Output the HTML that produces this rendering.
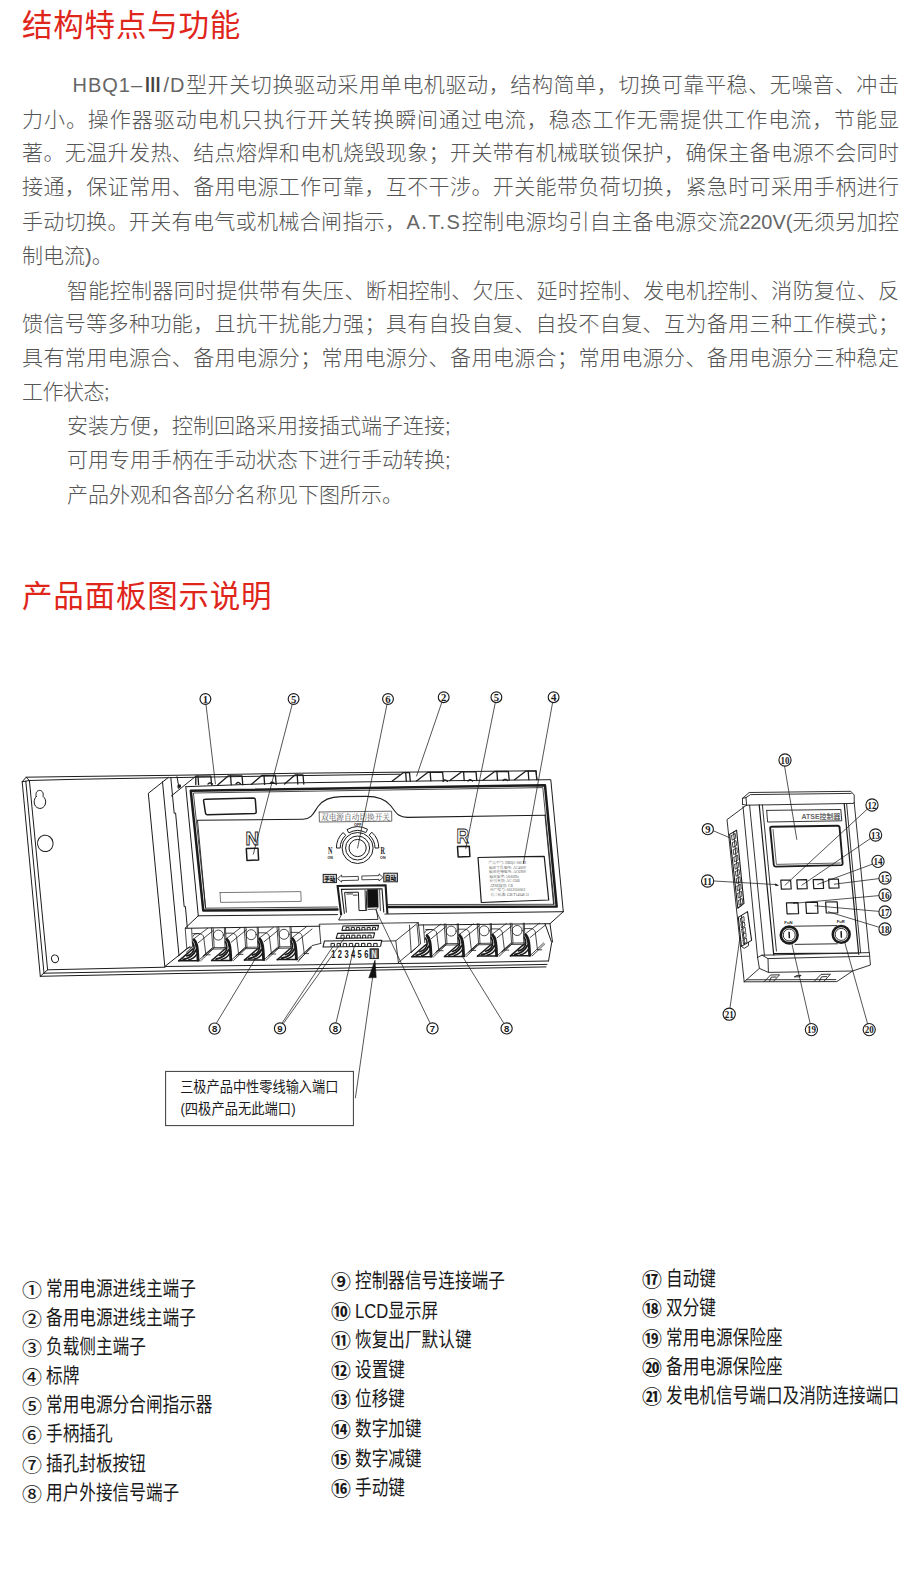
<!DOCTYPE html>
<html lang="zh-CN">
<head>
<meta charset="utf-8">
<title>结构特点与功能</title>
<style>
html,body{margin:0;padding:0;background:#fff;}
body{width:918px;height:1595px;position:relative;overflow:hidden;font-family:"Liberation Sans","Noto Sans CJK SC",sans-serif;}
.h{position:absolute;left:22px;color:#e0251b;font-size:30.5px;line-height:36px;letter-spacing:.8px;white-space:nowrap;font-weight:400;}
.l{position:absolute;left:22px;width:877px;color:#555;font-size:21px;line-height:30px;font-weight:300;white-space:nowrap;font-family:"Liberation Sans","Noto Sans CJK SC",sans-serif;letter-spacing:0;}
.l.j{text-align:justify;text-align-last:justify;}
.l.i{left:67px;width:832px;}
.l.n{letter-spacing:0;}
.l b{font-weight:300;font-size:20px;color:#666;}
.l b i{font-style:normal;font-weight:700;color:#444;display:inline-block;width:13.5px;margin:0 3.4px 0 3.4px;text-indent:-3.2px;letter-spacing:0;transform:scaleX(.8);transform-origin:50% 50%;}
</style>
</head>
<body>
<div class="h" style="top:7px">结构特点与功能</div>
<div class="l j i" style="top:70px"><b style="letter-spacing:1px;margin-left:5.5px">HBQ1–<i>Ⅲ</i>/D</b>型开关切换驱动采用单电机驱动，结构简单，切换可靠平稳、无噪音、冲击</div>
<div class="l j" style="top:104.5px">力小。操作器驱动电机只执行开关转换瞬间通过电流，稳态工作无需提供工作电流，节能显</div>
<div class="l j" style="top:138.2px">著。无温升发热、结点熔焊和电机烧毁现象；开关带有机械联锁保护，确保主备电源不会同时</div>
<div class="l j" style="top:172px">接通，保证常用、备用电源工作可靠，互不干涉。开关能带负荷切换，紧急时可采用手柄进行</div>
<div class="l j" style="top:206.5px">手动切换。开关有电气或机械合闸指示，<b style="letter-spacing:1.4px">A.T.S</b>控制电源均引自主备电源交流<b style="letter-spacing:-.1px">220V(</b>无须另加控</div>
<div class="l n" style="top:240.5px">制电流<b>)</b>。</div>
<div class="l j i" style="top:275.5px">智能控制器同时提供带有失压、断相控制、欠压、延时控制、发电机控制、消防复位、反</div>
<div class="l j" style="top:309px">馈信号等多种功能，且抗干扰能力强；具有自投自复、自投不自复、互为备用三种工作模式；</div>
<div class="l j" style="top:343px">具有常用电源合、备用电源分；常用电源分、备用电源合；常用电源分、备用电源分三种稳定</div>
<div class="l n" style="top:377px;letter-spacing:-.5px">工作状态<b>;</b></div>
<div class="l i n" style="top:411px">安装方便，控制回路采用接插式端子连接<b>;</b></div>
<div class="l i n" style="top:444.5px">可用专用手柄在手动状态下进行手动转换<b>;</b></div>
<div class="l i n" style="top:479.5px">产品外观和各部分名称见下图所示。</div>
<div class="h" style="top:578px">产品面板图示说明</div>
<svg style="position:absolute;left:0;top:680px" width="918" height="470" viewBox="0 680 918 470">
<g fill="none" stroke="#1c1c1c" stroke-width="1.0" stroke-linejoin="round" stroke-linecap="round">
<path d="M22.2,781.8 L26.1,777.2 L75.0,776.5 L173.0,775.3 L300.0,773.2 L536.0,770.8"/>
<path d="M29.4,780.5 L75.0,779.3 L168.0,777.7 L300.0,775.6 L400.0,774.2"/>
<path d="M22.2,781.8 L40.3,976.3"/>
<path d="M25.8,781.1 L44.0,973.2"/>
<path d="M29.4,780.5 L47.6,969.8"/>
<path d="M22.2,781.8 L29.4,780.5"/>
<path d="M26.1,777.2 L29.4,780.5"/>
<path d="M40.3,976.3 L47.6,969.8"/>
<path d="M40.3,976.3 L173.0,973.6 L293.0,971.6 L438.0,968.9 L546.0,966.9"/>
<path d="M44.0,973.2 L173.0,970.9 L293.0,969.0 L438.0,966.4 L547.0,964.4"/>
<path d="M47.6,969.8 L165.0,967.2"/>
<path d="M36.2,796.6 C35.2,793.2 36.8,790.4 39.6,790.4 C42.4,790.4 43.8,793.2 43.0,796.4 C45.4,798.2 46.2,801.2 45.4,804.0 C44.4,807.2 41.8,808.8 39.2,808.4 C36.0,807.8 34.0,805.0 34.2,801.8 C34.3,799.6 35.0,797.8 36.2,796.6 Z"/>
<ellipse cx="45.3" cy="843.4" rx="7.8" ry="8.2" transform="rotate(-10 45.3 843.4)"/>
<ellipse cx="55" cy="958.8" rx="3.5" ry="3.9" transform="rotate(-15 55 958.8)"/>
<path d="M168.3,777.5 L148.3,793.3 L164.8,966.5 L190.0,946.5"/>
<path d="M162.5,781.8 L179.0,955.5"/>
<path d="M170.8,777.5 L174.2,813.3 L175.6,813.0 L184.2,906.8 L185.4,906.5 L187.3,927.5"/>
<path d="M171.4,795.9 L195.8,776.2"/>
<path d="M177.0,776.7 L178.8,786.8"/>
<path d="M178.2,785.4 l2.0,-0.6 l0.4,2.2 l-2.0,1.2 Z" fill="#1c1c1c"/>
<path d="M185.8,786.7 L198.3,915.8"/>
<path d="M164.8,966.5 L293.0,965.0 L438.0,963.0 L548.0,961.0"/>
<path d="M185.8,786.7 L285.0,783.0 L438.0,780.8 L550.8,779.7 L563.3,911.7"/>
<path d="M198.3,915.8 L337.5,914.6"/>
<path d="M387.0,914.0 L563.3,911.7"/>
<path d="M198.3,915.8 L185.0,928.3 L293.0,926.6 L320.0,926.2"/>
<path d="M418.0,925.0 L550.0,923.7 L563.3,911.7"/>
<path d="M545.0,923.7 L551.7,942.5 L548.5,961.2"/>
<path d="M550.0,923.7 L552.5,942.0"/>
<path d="M536.0,770.8 L537.0,779.8"/>
</g>
<g fill="none" stroke="#1c1c1c" stroke-linejoin="round" stroke-linecap="round">
<path d="M337.5,909.6 L203.3,910.6 L190.8,790.8 L545.0,785.3 L556.7,906.6 L387.0,907.0" stroke-width="2.5"/>
<path d="M337.5,907.0 L205.6,908.2 L193.4,793.0 L542.8,787.6 L554.2,904.3 L387.0,904.6" stroke-width="0.8"/>
<path stroke-width="1.1" d="M197.5,820.3 L303,819.3 C312,819.2 314,812 318,806.5 C323,799.5 331,796.7 341,796.6 L366,796.4 C378,796.4 386,799.5 391,806 C396,812.5 398,817.6 408,817.4 L545,815.2"/>
<path d="M545.0,815.2 L553.6,904.3" stroke-width="0.9"/>
<path d="M197.5,820.3 L205.6,908.2" stroke-width="0.9"/>
<path stroke-width="1.5" d="M205.3,799.2 L253.6,798.0 Q255.2,798 255.3,799.6 L256.2,811.8 Q256.3,813.4 254.6,813.5 L207.4,814.7 Q205.8,814.7 205.5,813.1 L203.6,800.9 Q203.4,799.2 205.3,799.2 Z"/>
<path d="M220.0,892.6 L300.8,891.6 L301.2,901.4 L220.6,902.4 L220.0,892.6" stroke-width="0.8" stroke="#555"/>
<path d="M246.3,848.6 L258.0,848.2 L258.6,860.0 L247.0,860.4 L246.3,848.6" stroke-width="1.5"/>
<path d="M457.5,846.6 L469.3,846.2 L469.9,856.6 L458.2,857.0 L457.5,846.6" stroke-width="1.5"/>
<path d="M478.0,857.5 L544.2,856.3 L548.7,900.0 L481.3,902.5 L478.0,857.5" stroke-width="1.2"/>
<path d="M319.2,812.0 L391.6,811.2 L391.8,821.2 L319.4,822.0 L319.2,812.0" stroke-width="0.8" stroke="#444"/>
</g>
<g fill="#fff" stroke="#1c1c1c" stroke-width="0.9" font-family="Liberation Sans, sans-serif" font-weight="bold">
<text x="252.2" y="845.2" font-size="19" text-anchor="middle" textLength="13.5" lengthAdjust="spacingAndGlyphs">N</text>
<text x="462.8" y="842.6" font-size="20" text-anchor="middle" textLength="12.5" lengthAdjust="spacingAndGlyphs">R</text>
</g>
<text x="355.5" y="820.0" font-family="Liberation Serif, Noto Serif CJK SC, serif" font-size="8.2" fill="#555" text-anchor="middle" textLength="69" lengthAdjust="spacingAndGlyphs">双电源自动切换开关</text>
<g fill="none" stroke="#1c1c1c" stroke-width="1.0">
<circle cx="357.6" cy="848.0" r="8.6"/>
<circle cx="357.6" cy="848.0" r="12.0"/>
<circle cx="357.6" cy="848.0" r="15.5"/>
<path d="M340.2,848.0 A17.4,17.4 0 0 1 345.7,835.3 L343.1,832.5 A21.2,21.2 0 0 0 336.4,848.0 Z"/>
<path d="M348.9,832.9 A17.4,17.4 0 0 1 365.8,832.6 L367.6,829.3 A21.2,21.2 0 0 0 347.0,829.6 Z"/>
<path d="M369.2,835.1 A17.4,17.4 0 0 1 375.0,848.0 L378.8,848.0 A21.2,21.2 0 0 0 371.8,832.2 Z"/>
</g>
<g font-family="Liberation Serif, serif" font-weight="bold" fill="#1c1c1c" text-anchor="middle">
<text x="357.8" y="825.6" font-size="3.8" font-family="Liberation Sans, sans-serif">OFF</text>
<text x="330.2" y="853.8" font-size="9.6" textLength="4.4" lengthAdjust="spacingAndGlyphs">N</text>
<text x="330.2" y="859.4" font-size="3.6" font-family="Liberation Sans, sans-serif">ON</text>
<text x="382.8" y="853.8" font-size="9.6" textLength="4.4" lengthAdjust="spacingAndGlyphs">R</text>
<text x="382.8" y="859.4" font-size="3.6" font-family="Liberation Sans, sans-serif">ON</text>
</g>
<g stroke="#1c1c1c" stroke-width="1" fill="#d8d8d8">
<rect x="323.2" y="874.4" width="13.2" height="8.2"/>
<rect x="383.8" y="873.2" width="13.6" height="8.6"/>
</g>
<g font-family="Liberation Sans, Noto Sans CJK SC, sans-serif" font-weight="900" fill="#111" text-anchor="middle" font-size="6">
<text x="329.8" y="880.8" textLength="11.2" lengthAdjust="spacingAndGlyphs">手动</text>
<text x="390.6" y="879.8" textLength="11.6" lengthAdjust="spacingAndGlyphs">自动</text>
</g>
<g fill="none" stroke="#1c1c1c" stroke-width="0.8" stroke-linejoin="miter">
<path d="M337.6,878.6 L341.6,875.0 L341.6,876.8 L358.3,876.4 L358.4,880.2 L341.6,880.6 L341.6,882.2 Z"/>
<path d="M383.0,877.4 L379.0,873.8 L379.0,875.6 L361.8,876.0 L361.9,879.8 L379.0,879.4 L379.0,881.0 Z"/>
</g>
<g stroke="#1c1c1c" stroke-linejoin="miter">
<path fill="#fff" stroke="none" d="M341.2,915.0 L337.6,886.0 L385.6,885.2 L387.4,913.6 Z"/>
<path fill="none" stroke-width="2.1" d="M341.2,915.2 L337.6,886.0 L385.6,885.2 L387.4,913.8"/>
<path fill="none" stroke-width="1.1" d="M344.4,913.8 L341.4,889.4 L382.0,888.8 L383.8,912.4"/>
<path fill="none" stroke-width="1.0" d="M346.4,912.6 L344.6,892.4 L358.4,892.2 L359.0,910.6 L366.8,910.4 L366.2,890.6"/>
<path fill="none" stroke-width="0.9" d="M346.4,894.0 L353,893.9 M353,895.2 L357.6,895.1"/>
<path fill="#111" stroke-width="0.6" d="M367.4,889.6 L377.8,889.4 L378.2,907.0 L367.8,907.4 Z"/>
<path fill="none" stroke-width="0.8" d="M365.0,889.8 L365.6,909.8 M379.6,889.4 L380.4,911.0 M368,909.4 L376.4,909.2 L378.2,907.0"/>
<path fill="none" stroke-width="0.9" d="M341.2,915.2 L338.6,920.0 L378.0,919.4 L376.4,909.4 M387.4,913.8 L384.4,914.2"/>
</g>
<g font-family="Liberation Serif, Noto Serif CJK SC, serif" font-size="3.7" fill="#555">
<text x="488.6" y="864.0">产品型号: HBQ1-100 Ⅲ</text>
<text x="488.9" y="868.5">额定工作电压: AC400V</text>
<text x="489.1" y="873.0">额定绝缘电压: AC690V</text>
<text x="489.4" y="877.5">额定频率: 50/60Hz</text>
<text x="489.6" y="882.0">使用类别: AC-33iB</text>
<text x="489.9" y="886.5">ATSE级别: CB</text>
<text x="490.1" y="891.0">出厂编号: 0012050002</text>
<text x="490.4" y="895.5">符合标准: GB/T14048.11</text>
</g>
<g fill="none" stroke="#1c1c1c" stroke-width="1.3" stroke-linejoin="round" stroke-linecap="round">
<path d="M195.8,784.6 L195.8,776.2 L210.8,776.2 L211.6,784.6"/><path d="M198.0,776.2 L198.6,784.6"/>
<path d="M217.9,784.8 L228.4,775.8 L242.0,775.8 L242.8,784.8"/><path d="M230.6,775.8 L231.2,784.8"/>
<path d="M251.3,784.4 L261.8,775.4 L275.4,775.4 L276.2,784.4"/><path d="M264.0,775.4 L264.6,784.4"/>
<path d="M284.5,784.0 L295.0,775.0 L303.0,775.0 L303.8,784.0"/><path d="M297.2,775.0 L297.8,784.0"/>
<path d="M392.0,781.2 L403.5,772.6 L409.5,772.6 L410.3,781.2"/><path d="M405.7,772.6 L406.3,781.2"/>
<path d="M416.5,780.9 L428.0,772.3 L442.6,772.3 L443.4,780.9"/><path d="M430.2,772.3 L430.8,780.9"/>
<path d="M449.9,780.5 L461.4,771.9 L476.0,771.9 L476.8,780.5"/><path d="M463.6,771.9 L464.2,780.5"/>
<path d="M483.2,780.1 L494.7,771.5 L508.4,771.5 L509.2,780.1"/><path d="M496.9,771.5 L497.5,780.1"/>
<path d="M514.5,779.7 L526.0,771.1 L536.0,771.1 L536.8,779.7"/><path d="M528.2,771.1 L528.8,779.7"/>
<path d="M208.0,784.1 l1.5,-1.3 l1.6,0.2 l1.4,1.1"/>
<path d="M236.0,783.8 l1.5,-1.3 l1.6,0.2 l1.4,1.1"/>
<path d="M270.0,783.4 l1.5,-1.3 l1.6,0.2 l1.4,1.1"/>
<path d="M443.0,781.3 l1.5,-1.3 l1.6,0.2 l1.4,1.1"/>
<path d="M468.0,781.0 l1.5,-1.3 l1.6,0.2 l1.4,1.1"/>
<path d="M503.0,780.6 l1.5,-1.3 l1.6,0.2 l1.4,1.1"/>
</g>
<defs>
<g id="tmA" fill="none" stroke="#1c1c1c" stroke-width="0.8" stroke-linejoin="round" stroke-linecap="round"><circle cx="0" cy="0" r="5.0"/>
<path d="M-7,-7.3 L-5.6,13.0 M-5.3,-7.3 L-4.2,12.6 M6.0,-7.3 L6.6,12.4 M7.1,-7.3 L7.9,12.0"/>
<path d="M-4.9,12.6 L7.4,12.4 M-5.6,14.0 L5.6,13.8"/>
<path d="M-4.9,13.0 L-15.4,21.6 M-7.0,14.0 L-15.0,20.6"/></g>
<g id="tm">
<g fill="none" stroke="#1c1c1c" stroke-width="0.8" stroke-linejoin="round" stroke-linecap="round">
<path d="M7.1,-1.9 L13.9,-1.9 C16,-1.6 17.6,-0.4 18.1,1.6 L20.2,18.8"/>
<path d="M22.2,-7.3 L8.1,3.4 M28,-5.3 L12.6,7.3"/>
<path d="M26.4,12.5 L13.9,24.2 M27.6,13.4 L15.0,25.4"/>
<path d="M20.2,19.3 L24.6,19.3"/>
</g>
<path fill="#fff" stroke="none" d="M-7,25.6 L13.6,25.6 L12.8,9.4 C12.4,6.0 10.2,3.8 7.6,3.0 C8.8,6.4 8.6,10 7.4,13.2 Z"/>
<g fill="none" stroke="#1a1a1a" stroke-linecap="round" stroke-linejoin="round">
<path stroke-width="1.5" d="M-6.6,25.3 L13.4,25.3"/>
<path stroke-width="1.5" d="M-6.8,25.4 L7.2,13.4"/>
<path stroke-width="2.8" d="M8.4,4.2 C10.8,6.4 12.0,10.4 12.4,24.6"/>
<path stroke-width="1.6" d="M7.0,6.8 C9.0,10.2 9.2,13.8 6.6,17.2 C5.2,19.0 3.2,20.0 1.2,20.4"/>
<path stroke-width="1.9" d="M-2.4,24.0 C3.4,22.8 8.0,19.6 10.2,14.8"/>
<path stroke-width="1.5" d="M3.0,24.4 C6.4,23.6 9.4,21.6 11.2,18.6"/>
</g>
</g></defs>
<use href="#tm" x="185.6" y="935.5"/>
<use href="#tmA" x="218.4" y="935.1"/>
<use href="#tm" x="218.4" y="935.1"/>
<use href="#tmA" x="251.2" y="934.7"/>
<use href="#tm" x="251.2" y="934.7"/>
<use href="#tmA" x="284.0" y="934.3"/>
<use href="#tm" x="284.0" y="934.3"/>
<path fill="none" stroke="#1c1c1c" stroke-width="0.8" d="M185.2,928.3 L186.8,948.4 M191.6,928.2 L192.6,946.8 M186.8,948.4 L192.6,946.8 M186.8,948.4 L177.6,956.6 M192.6,946.8 L186,952.6 M193.0,936.6 C193.6,934.2 196,933.4 199.4,933.5"/>
<use href="#tm" x="418.6" y="931.4"/>
<use href="#tmA" x="451.2" y="931.1"/>
<use href="#tm" x="451.2" y="931.1"/>
<use href="#tmA" x="484.2" y="930.8"/>
<use href="#tm" x="484.2" y="930.8"/>
<use href="#tmA" x="517.2" y="930.5"/>
<use href="#tm" x="517.2" y="930.5"/>
<path fill="none" stroke="#1c1c1c" stroke-width="0.8" d="M409.4,924.8 L411.2,952.8 M417.0,924.8 L419.0,945.0 M411.2,952.8 L419.0,945.0 M424.6,933.0 C425.2,930.4 428,929.4 432.4,929.5 M423.4,924.6 L424.8,943"/>
<g fill="none" stroke="#1c1c1c" stroke-width="0.85" stroke-linejoin="round" stroke-linecap="round">
<path d="M320.8,943.4 L319.2,924.2 L418.3,922.6 L395.8,940.8 L398.4,962.6"/>
<path d="M320.8,943.4 L312.0,945.6 L298.0,961.6"/>
<path d="M418.3,922.6 L420.6,944.0 L398.4,962.6"/>
<path d="M395.8,940.8 L382.0,941.2"/>
<path d="M343.0,926.0 L378.6,925.4 L377.6,929.8 L342.0,930.4 L343.0,926.0" stroke-width="1.1"/>
<path d="M337.6,933.4 L374.6,932.8 L373.4,937.8 L336.2,938.4 L337.6,933.4" stroke-width="1.1"/>
<path d="M324.4,941.0 L381.8,940.2 L380.6,946.2 L323.0,947.0 L324.4,941.0" stroke-width="1.1"/>
<path d="M346.0,930.0 l0,-2.6 l3.0,0 l0,2.6 M351.3,930.0 l0,-2.6 l3.0,0 l0,2.6 M356.6,930.0 l0,-2.6 l3.0,0 l0,2.6 M361.9,930.0 l0,-2.6 l3.0,0 l0,2.6 M367.2,930.0 l0,-2.6 l3.0,0 l0,2.6 M372.5,930.0 l0,-2.6 l3.0,0 l0,2.6 " stroke-width="1.0"/>
<path d="M341.0,938.0 l0,-2.8 l3.1,0 l0,2.8 M346.4,938.0 l0,-2.8 l3.1,0 l0,2.8 M351.8,938.0 l0,-2.8 l3.1,0 l0,2.8 M357.2,938.0 l0,-2.8 l3.1,0 l0,2.8 M362.6,938.0 l0,-2.8 l3.1,0 l0,2.8 M368.0,938.0 l0,-2.8 l3.1,0 l0,2.8 " stroke-width="1.0"/>
<path d="M331.0,946.4 l0,-3.0 l3.4,0 l0,3.0 M337.1,946.4 l0,-3.0 l3.4,0 l0,3.0 M343.2,946.4 l0,-3.0 l3.4,0 l0,3.0 M349.3,946.4 l0,-3.0 l3.4,0 l0,3.0 M355.4,946.4 l0,-3.0 l3.4,0 l0,3.0 M361.5,946.4 l0,-3.0 l3.4,0 l0,3.0 M367.6,946.4 l0,-3.0 l3.4,0 l0,3.0 M373.7,946.4 l0,-3.0 l3.4,0 l0,3.0 " stroke-width="1.0"/>
</g>
<rect x="370.0" y="948.8" width="8.4" height="9.8" fill="#555" stroke="#1c1c1c" stroke-width="0.9"/>
<text transform="translate(351.0,957.6) scale(.7,1)" font-family="Liberation Sans, sans-serif" font-weight="bold" font-size="10.8" letter-spacing="3.4" fill="#1a1a1a" text-anchor="middle">123456</text>
<text x="374.2" y="957.6" font-family="Liberation Sans, sans-serif" font-weight="bold" font-size="10.4" fill="#eee" text-anchor="middle" textLength="5.2" lengthAdjust="spacingAndGlyphs">N</text>
<path d="M375.0,960.2 L376.2,977.6 L368.8,977.8 Z" fill="#111" stroke="#111" stroke-width="0.6"/>
<g fill="none" stroke="#1c1c1c" stroke-width="0.75" stroke-linecap="round">
<path d="M206.0,704.6 L215.4,783.8"/>
<path d="M292.2,704.4 L253.4,854.0"/>
<path d="M387.0,704.4 L357.6,848.0"/>
<path d="M441.8,702.4 L416.6,776.0"/>
<path d="M495.3,702.6 L465.8,848.4"/>
<path d="M552.6,702.6 L523.4,863.4"/>
<path d="M255.2,959.0 L216.6,1022.8"/>
<path d="M333.4,945.8 L282.2,1022.8"/>
<path d="M344.4,938.2 L283.4,1023.4"/>
<path d="M354.4,945.6 L336.2,1022.2"/>
<path d="M375.8,910.0 L429.8,1022.6"/>
<path d="M461.6,955.0 L503.4,1022.6"/>
<path d="M372.6,977.6 L355.4,1097.8"/>
</g>
<rect x="165.6" y="1071.4" width="187.8" height="54.2" fill="#fff" stroke="#3a3a3a" stroke-width="1"/>
<g font-family="Liberation Sans, Noto Sans CJK SC, sans-serif" font-size="14.6" fill="#1a1a1a" font-weight="400">
<text x="180.2" y="1092.2" textLength="158.2" lengthAdjust="spacingAndGlyphs">三极产品中性零线输入端口</text>
<text x="180.4" y="1114.4" textLength="115.2" lengthAdjust="spacingAndGlyphs">(四极产品无此端口)</text>
</g>
<circle cx="205.4" cy="699.0" r="5.4" fill="#fff" stroke="#1c1c1c" stroke-width="1.15"/><text x="205.4" y="702.7" font-family="Liberation Serif, serif" font-weight="bold" font-size="10.8" fill="#1c1c1c" text-anchor="middle">1</text>
<circle cx="293.6" cy="699.0" r="5.4" fill="#fff" stroke="#1c1c1c" stroke-width="1.15"/><text x="293.6" y="702.7" font-family="Liberation Serif, serif" font-weight="bold" font-size="10.8" fill="#1c1c1c" text-anchor="middle">5</text>
<circle cx="388.0" cy="699.0" r="5.4" fill="#fff" stroke="#1c1c1c" stroke-width="1.15"/><text x="388.0" y="702.7" font-family="Liberation Serif, serif" font-weight="bold" font-size="10.8" fill="#1c1c1c" text-anchor="middle">6</text>
<circle cx="443.7" cy="697.2" r="5.4" fill="#fff" stroke="#1c1c1c" stroke-width="1.15"/><text x="443.7" y="700.9" font-family="Liberation Serif, serif" font-weight="bold" font-size="10.8" fill="#1c1c1c" text-anchor="middle">2</text>
<circle cx="496.4" cy="697.2" r="5.4" fill="#fff" stroke="#1c1c1c" stroke-width="1.15"/><text x="496.4" y="700.9" font-family="Liberation Serif, serif" font-weight="bold" font-size="10.8" fill="#1c1c1c" text-anchor="middle">5</text>
<circle cx="553.6" cy="697.2" r="5.4" fill="#fff" stroke="#1c1c1c" stroke-width="1.15"/><text x="553.6" y="700.9" font-family="Liberation Serif, serif" font-weight="bold" font-size="10.8" fill="#1c1c1c" text-anchor="middle">4</text>
<circle cx="214.6" cy="1028.6" r="5.6" fill="#fff" stroke="#1c1c1c" stroke-width="1.15"/><text x="214.6" y="1031.9" font-family="Liberation Sans, sans-serif" font-weight="bold" font-size="9.6" fill="#1c1c1c" text-anchor="middle">8</text>
<circle cx="280.0" cy="1028.4" r="5.6" fill="#fff" stroke="#1c1c1c" stroke-width="1.15"/><text x="280.0" y="1031.7" font-family="Liberation Sans, sans-serif" font-weight="bold" font-size="9.6" fill="#1c1c1c" text-anchor="middle">9</text>
<circle cx="335.3" cy="1028.4" r="5.6" fill="#fff" stroke="#1c1c1c" stroke-width="1.15"/><text x="335.3" y="1031.7" font-family="Liberation Sans, sans-serif" font-weight="bold" font-size="9.6" fill="#1c1c1c" text-anchor="middle">8</text>
<circle cx="432.5" cy="1028.4" r="5.6" fill="#fff" stroke="#1c1c1c" stroke-width="1.15"/><text x="432.5" y="1031.7" font-family="Liberation Sans, sans-serif" font-weight="bold" font-size="9.6" fill="#1c1c1c" text-anchor="middle">7</text>
<circle cx="506.6" cy="1028.4" r="5.6" fill="#fff" stroke="#1c1c1c" stroke-width="1.15"/><text x="506.6" y="1031.7" font-family="Liberation Sans, sans-serif" font-weight="bold" font-size="9.6" fill="#1c1c1c" text-anchor="middle">8</text>
<g fill="none" stroke="#1c1c1c" stroke-width="0.9" stroke-linejoin="round" stroke-linecap="round">
<path d="M742.5,804.4 L742.5,798.3 L749.2,792.5 L850.8,791.3 L854.2,795.0 L854.2,802.6"/>
<path d="M746.0,797.6 L750.4,794.6 L851.2,793.4"/>
<path d="M746.6,805.2 L746.0,797.6"/>
<path d="M742.5,804.4 L746.6,805.2 L853.6,803.4 L854.2,802.6"/>
<path d="M742.5,798.3 L746.0,797.6"/>
<path d="M759.2,804.8 L773.6,953.6 L858.6,953.0 L844.2,803.6" stroke-width="1.2"/>
<path d="M762.4,805.0 L776.4,951.0"/>
<path d="M846.6,803.6 L860.6,952.8"/>
<path d="M854.2,802.6 L869.2,952.6"/>
<path d="M746.7,805.0 L727.0,819.6 L744.2,981.8"/>
<path d="M743.0,806.4 L757.6,957.4"/>
<path d="M749.6,805.2 L764.4,955.2"/>
<path d="M757.6,957.4 L762.0,955.2 L869.4,952.6 L870.4,965.0 L852.6,971.0 L768.4,972.4 L759.4,968.4 L757.6,957.4"/>
<path d="M762.0,955.2 L768.0,958.6 L768.4,972.4"/>
<path d="M768.0,958.6 L869.6,956.2"/>
<path d="M773.6,953.6 L773.8,955.2"/>
<path d="M858.6,953.0 L858.8,954.6"/>
<path d="M744.2,981.8 L836.8,981.6 L852.6,971.0"/>
<path d="M744.2,981.8 L759.4,968.4"/>
<path d="M746.6,979.8 L835.8,979.6"/>
<path d="M764.2,981.6 L770.6,975.0 L779.6,974.8 L773.4,981.4"/>
<path d="M769.6,981.4 L771.2,977.2 L776.0,977.0"/>
<path d="M814.2,981.4 L821.0,974.4 L830.4,974.2 L824.0,981.2"/>
<path d="M819.4,981.2 L821.6,976.8 L826.6,976.6"/>
<path d="M794.6,976.8 L797.0,975.4 L801.2,975.4 L799.0,976.8 L794.6,976.8"/>
<path d="M766.7,810.4 L840.8,809.5 L841.8,820.8 L767.6,822.0 L766.7,810.4"/>
<path d="M780.8,880.2 L790.6,880.0 L791.2,889.0 L781.4,889.2 L780.8,880.2" stroke-width="1.2"/>
<path d="M796.8,879.9 L806.6,879.7 L807.2,888.7 L797.4,888.9 L796.8,879.9" stroke-width="1.2"/>
<path d="M813.2,879.6 L823.0,879.4 L823.6,888.4 L813.8,888.6 L813.2,879.6" stroke-width="1.2"/>
<path d="M828.6,879.2 L838.4,879.0 L839.0,888.0 L829.2,888.2 L828.6,879.2" stroke-width="1.2"/>
<path d="M786.4,902.8 L798.0,902.6 L798.6,913.6 L787.1,913.8 L786.4,902.8" stroke-width="1.2"/>
<path d="M805.8,902.4 L817.4,902.2 L818.0,913.2 L806.5,913.4 L805.8,902.4" stroke-width="1.2"/>
<path d="M825.6,902.0 L837.2,901.8 L837.8,912.8 L826.3,913.0 L825.6,902.0" stroke-width="1.2"/>
<path d="M794.0,926.2 L836.6,925.6"/>
<path d="M795.0,944.4 L837.4,943.8"/>
</g>
<path fill="none" stroke="#1c1c1c" stroke-width="1.9" stroke-linejoin="round" d="M771.6,826.8 L837.6,825.8 Q839.4,825.8 839.6,827.6 L842.6,863.2 Q842.8,865.0 841.0,865.1 L775.6,866.6 Q774.0,866.6 773.8,865.0 L770.2,828.4 Q770.0,826.8 771.6,826.8 Z"/>
<path fill="none" stroke="#1c1c1c" stroke-width="0.7" d="M773.0,829.0 L776.4,864.4 L840.6,863.0"/>
<text x="821" y="818.8" font-family="Liberation Sans, Noto Sans CJK SC, sans-serif" font-weight="bold" font-size="6.6" fill="#666" text-anchor="middle" textLength="39.0" lengthAdjust="spacingAndGlyphs">ATSE控制器</text>
<circle cx="789.2" cy="935.0" r="8.4" fill="#fff" stroke="#1c1c1c" stroke-width="2.6"/>
<circle cx="789.2" cy="935.0" r="6.0" fill="none" stroke="#1c1c1c" stroke-width="0.9"/>
<path d="M789.1,931.7 l0.3,6.6" stroke="#1c1c1c" stroke-width="1.5" fill="none"/>
<circle cx="841.2" cy="934.4" r="8.4" fill="#fff" stroke="#1c1c1c" stroke-width="2.6"/>
<circle cx="841.2" cy="934.4" r="6.0" fill="none" stroke="#1c1c1c" stroke-width="0.9"/>
<path d="M841.1,931.1 l0.3,6.6" stroke="#1c1c1c" stroke-width="1.5" fill="none"/>
<g font-family="Liberation Sans, sans-serif" font-weight="bold" font-size="4.2" fill="#1c1c1c" text-anchor="middle">
<text x="788.4" y="924.0">FuN</text><text x="840.8" y="923.2">FuR</text>
</g>
<g fill="none" stroke="#1c1c1c" stroke-width="0.9" stroke-linejoin="round" stroke-linecap="round">
<path d="M729.6,834.4 L736.6,830.2 L744.0,903.4 L737.8,908.2 L729.6,834.4" stroke-width="1.1"/>
<path d="M733.6,832.2 L741.0,905.8"/>
<path d="M731.6,835.6 L735.2,833.4 L735.8,838.2 L732.1,840.2 L731.6,835.6" stroke-width="0.8"/>
<path d="M732.4,842.8 L736.0,840.6 L736.6,845.4 L732.9,847.4 L732.4,842.8" stroke-width="0.8"/>
<path d="M733.2,850.0 L736.8,847.8 L737.4,852.6 L733.7,854.6 L733.2,850.0" stroke-width="0.8"/>
<path d="M733.9,857.3 L737.5,855.1 L738.1,859.9 L734.4,861.9 L733.9,857.3" stroke-width="0.8"/>
<path d="M734.7,864.5 L738.3,862.3 L738.9,867.1 L735.2,869.1 L734.7,864.5" stroke-width="0.8"/>
<path d="M735.5,871.7 L739.1,869.5 L739.7,874.3 L736.0,876.3 L735.5,871.7" stroke-width="0.8"/>
<path d="M736.3,878.9 L739.9,876.7 L740.5,881.5 L736.8,883.5 L736.3,878.9" stroke-width="0.8"/>
<path d="M737.0,886.2 L740.6,884.0 L741.2,888.8 L737.5,890.8 L737.0,886.2" stroke-width="0.8"/>
<path d="M737.8,893.4 L741.4,891.2 L742.0,896.0 L738.3,898.0 L737.8,893.4" stroke-width="0.8"/>
<path d="M738.6,900.6 L742.2,898.4 L742.8,903.2 L739.1,905.2 L738.6,900.6" stroke-width="0.8"/>
<path d="M738.3,917.4 L747.5,911.6 L751.6,940.4 L741.4,946.4 L738.3,917.4" stroke-width="1.1"/>
<path d="M741.4,915.6 L744.6,944.4"/>
<path d="M740.4,918.6 L743.8,916.5 L744.3,920.6 L740.9,922.6 L740.4,918.6" stroke-width="0.8"/>
<path d="M741.0,924.0 L744.4,921.9 L744.9,926.0 L741.5,928.0 L741.0,924.0" stroke-width="0.8"/>
<path d="M741.7,929.4 L745.1,927.2 L745.6,931.4 L742.2,933.4 L741.7,929.4" stroke-width="0.8"/>
<path d="M742.4,934.7 L745.8,932.6 L746.2,936.7 L742.9,938.7 L742.4,934.7" stroke-width="0.8"/>
<path d="M743.0,940.1 L746.4,938.0 L746.9,942.1 L743.5,944.1 L743.0,940.1" stroke-width="0.8"/>
<path d="M741.4,946.4 L744.2,948.4 L748.6,945.6 L748.4,942.4"/>
</g>
<g fill="none" stroke="#1c1c1c" stroke-width="0.75" stroke-linecap="round">
<path d="M784.6,766.4 L796.8,839.4"/>
<path d="M867.4,809.0 L785.0,885.2"/>
<path d="M870.6,838.4 L801.8,885.2"/>
<path d="M872.8,864.0 L817.6,884.4"/>
<path d="M879.0,878.6 L834.4,884.2"/>
<path d="M879.0,895.6 L793.4,903.4"/>
<path d="M879.2,911.4 L815.0,905.8"/>
<path d="M879.6,927.4 L828.4,911.8"/>
<path d="M713.4,830.8 L729.4,837.6"/>
<path d="M713.8,881.0 L776.6,884.6"/>
<path d="M730.0,1007.8 L739.8,938.4"/>
<path d="M791.8,943.4 L810.2,1023.6"/>
<path d="M845.0,943.4 L867.6,1023.8"/>
</g>
<path d="M778.4,885.4 l-3.2,-1.6 l0.4,1.9 Z" fill="#1c1c1c" stroke="#1c1c1c" stroke-width="0.6"/>
<circle cx="785.0" cy="760.0" r="6.1" fill="#fff" stroke="#1c1c1c" stroke-width="1.1"/><text x="785.0" y="763.6" font-family="Liberation Serif, serif" font-weight="bold" font-size="10.8" fill="#1c1c1c" text-anchor="middle" textLength="9.0" lengthAdjust="spacingAndGlyphs">10</text>
<circle cx="872.0" cy="805.0" r="6.1" fill="#fff" stroke="#1c1c1c" stroke-width="1.1"/><text x="872.0" y="808.6" font-family="Liberation Serif, serif" font-weight="bold" font-size="10.8" fill="#1c1c1c" text-anchor="middle" textLength="9.0" lengthAdjust="spacingAndGlyphs">12</text>
<circle cx="875.6" cy="835.0" r="6.1" fill="#fff" stroke="#1c1c1c" stroke-width="1.1"/><text x="875.6" y="838.6" font-family="Liberation Serif, serif" font-weight="bold" font-size="10.8" fill="#1c1c1c" text-anchor="middle" textLength="9.0" lengthAdjust="spacingAndGlyphs">13</text>
<circle cx="878.0" cy="861.4" r="6.1" fill="#fff" stroke="#1c1c1c" stroke-width="1.1"/><text x="878.0" y="865.0" font-family="Liberation Serif, serif" font-weight="bold" font-size="10.8" fill="#1c1c1c" text-anchor="middle" textLength="9.0" lengthAdjust="spacingAndGlyphs">14</text>
<circle cx="885.0" cy="878.0" r="6.1" fill="#fff" stroke="#1c1c1c" stroke-width="1.1"/><text x="885.0" y="881.6" font-family="Liberation Serif, serif" font-weight="bold" font-size="10.8" fill="#1c1c1c" text-anchor="middle" textLength="9.0" lengthAdjust="spacingAndGlyphs">15</text>
<circle cx="885.0" cy="895.0" r="6.1" fill="#fff" stroke="#1c1c1c" stroke-width="1.1"/><text x="885.0" y="898.6" font-family="Liberation Serif, serif" font-weight="bold" font-size="10.8" fill="#1c1c1c" text-anchor="middle" textLength="9.0" lengthAdjust="spacingAndGlyphs">16</text>
<circle cx="885.0" cy="912.0" r="6.1" fill="#fff" stroke="#1c1c1c" stroke-width="1.1"/><text x="885.0" y="915.6" font-family="Liberation Serif, serif" font-weight="bold" font-size="10.8" fill="#1c1c1c" text-anchor="middle" textLength="9.0" lengthAdjust="spacingAndGlyphs">17</text>
<circle cx="885.0" cy="929.0" r="6.1" fill="#fff" stroke="#1c1c1c" stroke-width="1.1"/><text x="885.0" y="932.6" font-family="Liberation Serif, serif" font-weight="bold" font-size="10.8" fill="#1c1c1c" text-anchor="middle" textLength="9.0" lengthAdjust="spacingAndGlyphs">18</text>
<circle cx="707.8" cy="829.2" r="5.6" fill="#fff" stroke="#1c1c1c" stroke-width="1.1"/><text x="707.8" y="832.7" font-family="Liberation Serif, serif" font-weight="bold" font-size="10.6" fill="#1c1c1c" text-anchor="middle">9</text>
<circle cx="707.6" cy="881.0" r="6.1" fill="#fff" stroke="#1c1c1c" stroke-width="1.1"/><text x="707.6" y="884.6" font-family="Liberation Serif, serif" font-weight="bold" font-size="10.8" fill="#1c1c1c" text-anchor="middle" textLength="9.0" lengthAdjust="spacingAndGlyphs">11</text>
<circle cx="729.2" cy="1014.2" r="6.1" fill="#fff" stroke="#1c1c1c" stroke-width="1.1"/><text x="729.2" y="1017.8" font-family="Liberation Serif, serif" font-weight="bold" font-size="10.8" fill="#1c1c1c" text-anchor="middle" textLength="9.0" lengthAdjust="spacingAndGlyphs">21</text>
<circle cx="811.4" cy="1029.6" r="6.1" fill="#fff" stroke="#1c1c1c" stroke-width="1.1"/><text x="811.4" y="1033.2" font-family="Liberation Serif, serif" font-weight="bold" font-size="10.8" fill="#1c1c1c" text-anchor="middle" textLength="9.0" lengthAdjust="spacingAndGlyphs">19</text>
<circle cx="869.2" cy="1029.6" r="6.1" fill="#fff" stroke="#1c1c1c" stroke-width="1.1"/><text x="869.2" y="1033.2" font-family="Liberation Serif, serif" font-weight="bold" font-size="10.8" fill="#1c1c1c" text-anchor="middle" textLength="9.0" lengthAdjust="spacingAndGlyphs">20</text>
</svg>
<style>
.c{position:absolute;font-family:"Noto Sans CJK SC","Liberation Sans",sans-serif;font-size:18.5px;font-weight:500;line-height:28px;color:#1a1a1a;white-space:nowrap;transform-origin:0 50%;transform:scaleX(1.08);}
.c.b{font-size:19.5px;font-weight:700;transform:scaleX(1.02);}
.t{position:absolute;font-family:"Liberation Sans","Noto Sans CJK SC",sans-serif;font-size:20.5px;line-height:28px;color:#1a1a1a;white-space:nowrap;transform-origin:0 50%;transform:scaleX(.812);}
</style>
<div class="c" style="left:22px;top:1274.7px">①</div><div class="t" style="left:45.5px;top:1274.7px">常用电源进线主端子</div>
<div class="c" style="left:22px;top:1303.7px">②</div><div class="t" style="left:45.5px;top:1303.7px">备用电源进线主端子</div>
<div class="c" style="left:22px;top:1332.7px">③</div><div class="t" style="left:45.5px;top:1332.7px">负载侧主端子</div>
<div class="c" style="left:22px;top:1361.7px">④</div><div class="t" style="left:45.5px;top:1361.7px">标牌</div>
<div class="c" style="left:22px;top:1390.7px">⑤</div><div class="t" style="left:45.5px;top:1390.7px">常用电源分合闸指示器</div>
<div class="c" style="left:22px;top:1419.7px">⑥</div><div class="t" style="left:45.5px;top:1419.7px">手柄插孔</div>
<div class="c" style="left:22px;top:1449.7px">⑦</div><div class="t" style="left:45.5px;top:1449.7px">插孔封板按钮</div>
<div class="c" style="left:22px;top:1478.7px">⑧</div><div class="t" style="left:45.5px;top:1478.7px">用户外接信号端子</div>
<div class="c b" style="left:330.5px;top:1266.5px">⑨</div><div class="t" style="left:354.5px;top:1266.5px">控制器信号连接端子</div>
<div class="c b" style="left:330.5px;top:1296.5px">⑩</div><div class="t" style="left:354.5px;top:1296.5px">LCD显示屏</div>
<div class="c b" style="left:330.5px;top:1325.5px">⑪</div><div class="t" style="left:354.5px;top:1325.5px">恢复出厂默认键</div>
<div class="c b" style="left:330.5px;top:1355.5px">⑫</div><div class="t" style="left:354.5px;top:1355.5px">设置键</div>
<div class="c b" style="left:330.5px;top:1384.5px">⑬</div><div class="t" style="left:354.5px;top:1384.5px">位移键</div>
<div class="c b" style="left:330.5px;top:1414.5px">⑭</div><div class="t" style="left:354.5px;top:1414.5px">数字加键</div>
<div class="c b" style="left:330.5px;top:1444.5px">⑮</div><div class="t" style="left:354.5px;top:1444.5px">数字减键</div>
<div class="c b" style="left:330.5px;top:1473.5px">⑯</div><div class="t" style="left:354.5px;top:1473.5px">手动键</div>
<div class="c b" style="left:641.5px;top:1265px">⑰</div><div class="t" style="left:665.5px;top:1265px">自动键</div>
<div class="c b" style="left:641.5px;top:1294px">⑱</div><div class="t" style="left:665.5px;top:1294px">双分键</div>
<div class="c b" style="left:641.5px;top:1324px">⑲</div><div class="t" style="left:665.5px;top:1324px">常用电源保险座</div>
<div class="c b" style="left:641.5px;top:1353px">⑳</div><div class="t" style="left:665.5px;top:1353px">备用电源保险座</div>
<div class="c b" style="left:641.5px;top:1382px">㉑</div><div class="t" style="left:665.5px;top:1382px">发电机信号端口及消防连接端口</div>
</body>
</html>
